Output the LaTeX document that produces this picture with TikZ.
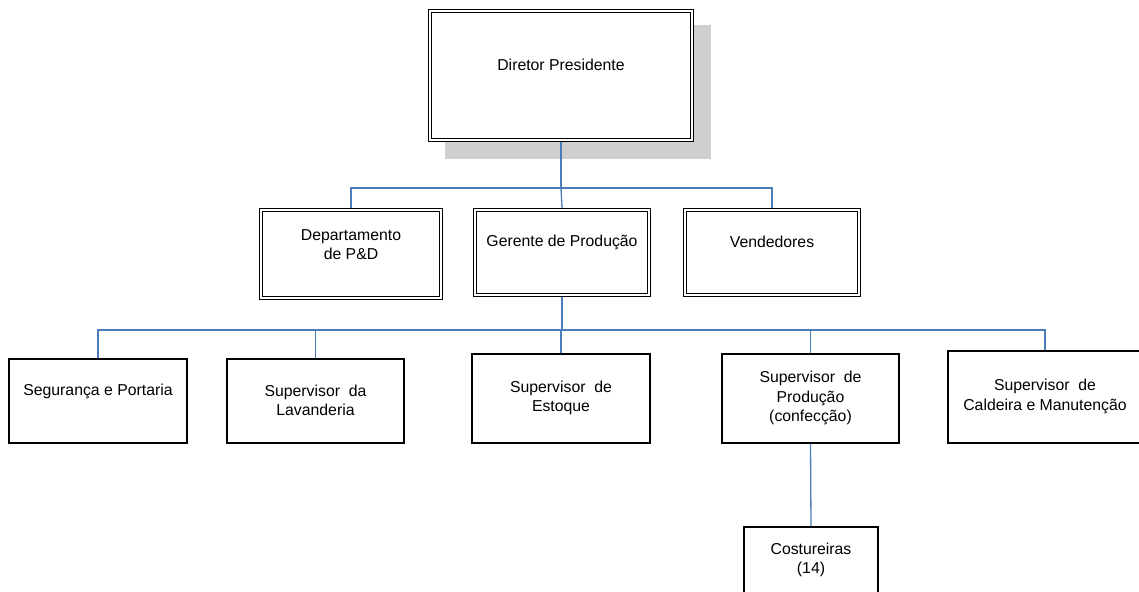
\documentclass[tikz,border=0pt]{standalone}
\usepackage{fontspec}
\setmainfont{Liberation Sans}
\usetikzlibrary{calc}
\begin{document}
\begin{tikzpicture}[x=1pt,y=-1pt,
  dbox/.style={draw=black,line width=1.2pt,fill=white,inner sep=0pt,anchor=center},
  sbox/.style={draw=black,line width=1.2pt,fill=white,inner sep=0pt,anchor=center},
  inner/.style={draw=black,line width=1.2pt},
  lbl/.style={align=center,inner sep=0pt,font=\fontsize{15.8}{19.5}\selectfont},
  conn/.style={line width=1.3pt,color={rgb,255:red,74;green,126;blue,187}}]
\useasboundingbox (0,0) rectangle (1139,591);
% shadow
\fill[gray!38] (445,25) rectangle (711,159);
% level 1
\node[dbox,minimum width=265pt,minimum height=132pt] (dir) at (561,75.5) {};
\draw[inner] ($(dir.north west)+(3.6,3.6)$) rectangle ($(dir.south east)+(-3.6,-3.6)$);
\node[lbl] (dirT) at (561,65) {Diretor Presidente};
% level 2
\node[dbox,minimum width=183pt,minimum height=91pt] (pd) at (351,254) {};
\draw[inner] ($(pd.north west)+(3.6,3.6)$) rectangle ($(pd.south east)+(-3.6,-3.6)$);
\node[lbl] (pdT) at (351,244.5) {Departamento\\de P\&D};
\node[dbox,minimum width=177pt,minimum height=88pt] (ger) at (562,252.5) {};
\draw[inner] ($(ger.north west)+(3.6,3.6)$) rectangle ($(ger.south east)+(-3.6,-3.6)$);
\node[lbl] (gerT) at (562,242) {Gerente de Produção};
\node[dbox,minimum width=177pt,minimum height=88pt] (vend) at (772,252.5) {};
\draw[inner] ($(vend.north west)+(3.6,3.6)$) rectangle ($(vend.south east)+(-3.6,-3.6)$);
\node[lbl] (vendT) at (772,242) {Vendedores};
% level 3
\node[sbox,minimum width=178pt,minimum height=84pt] (seg) at (98,401) {};
\node[lbl] (segT) at (98,391) {Segurança e Portaria};
\node[sbox,minimum width=177pt,minimum height=84pt] (lav) at (315.5,401) {};
\node[lbl] (lavT) at (315.5,400.5) {Supervisor\ \ da\\Lavanderia};
\node[sbox,minimum width=178pt,minimum height=89pt] (est) at (561,398.5) {};
\node[lbl] (estT) at (561,398) {Supervisor\ \ de\\Estoque};
\node[sbox,minimum width=177pt,minimum height=89pt] (prod) at (810.5,398.5) {};
\node[lbl] (prodT) at (810.5,398) {Supervisor\ \ de\\Produção\\(confecção)};
\node[sbox,minimum width=194pt,minimum height=92pt] (cal) at (1045,397) {};
\node[lbl] (calT) at (1045,396.5) {Supervisor\ \ de\\Caldeira e Manutenção};
% level 4
\node[sbox,minimum width=134pt,minimum height=80pt] (cos) at (811,567) {};
\node[lbl] (cosT) at (811,560) {Costureiras\\(14)};
% connectors
\coordinate (b1) at (561,188);
\coordinate (b2) at (561,330);
\draw[conn] (dir.south) -- (b1);
\draw[conn] (pd.north) |- (b1) -| (vend.north);
\draw[conn] (b1) -- (ger.north);
\draw[conn] (ger.south) -- (ger.south |- b2);
\draw[conn] (seg.north) |- (b2) -| (cal.north);
\draw[conn] (lav.north) -- (lav.north |- b2);
\draw[conn] (est.north) -- (est.north |- b2);
\draw[conn] (prod.north) -- (prod.north |- b2);
\draw[conn] (prod.south) -- (cos.north);
\end{tikzpicture}
\end{document}
